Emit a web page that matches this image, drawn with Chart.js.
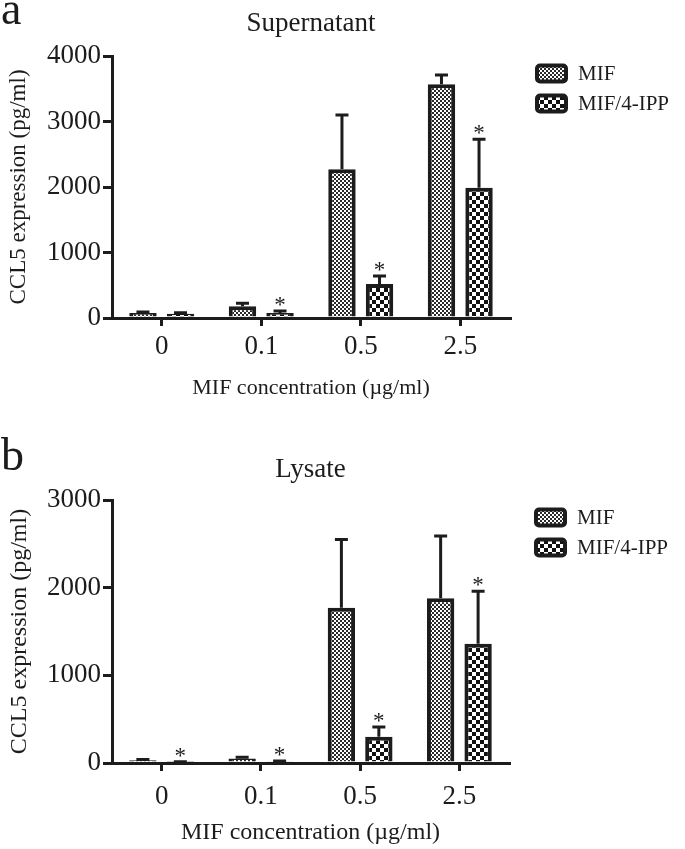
<!DOCTYPE html>
<html>
<head>
<meta charset="utf-8">
<script src="https://cdn.jsdelivr.net/npm/chart.js@4.4.1/dist/chart.umd.min.js"></script>
<style>
  body { margin: 0; background: #fff; }
  #wrap { position: relative; width: 685px; height: 849px; }
  canvas { position: absolute; left: 0; }
</style>
</head>
<body>
<div id="wrap">
  <canvas id="chartA" width="685" height="420" style="top:0"></canvas>
  <canvas id="chartB" width="685" height="429" style="top:420px"></canvas>
</div>
<script>
const categories = ['0', '0.1', '0.5', '2.5'];
const seriesNames = ['MIF', 'MIF/4-IPP'];

// panel a - supernatant
const supMif = [75, 180, 2270, 3570];
const supMifErr = [15, 45, 830, 140];
const supIpp = [65, 75, 520, 1990];
const supIppErr = [15, 30, 120, 740];
const supStars = [false, true, true, true];
const supTicks = [0, 1000, 2000, 3000, 4000];

// panel b - lysate
const lysMif = [30, 50, 1770, 1880];
const lysMifErr = [10, 15, 780, 710];
const lysIpp = [10, 15, 300, 1360];
const lysIppErr = [5, 8, 110, 600];
const lysStars = [true, true, true, true];
const lysTicks = [0, 1000, 2000, 3000];

const INK = '#1c1c1c';
const SERIF = "'Liberation Serif', 'Times New Roman', serif";

function makePattern(cell, dark) {
    const c = document.createElement('canvas');
    c.width = c.height = cell * 2;
    const g = c.getContext('2d');
    g.fillStyle = '#fff';
    g.fillRect(0, 0, cell * 2, cell * 2);
    g.fillStyle = dark;
    g.fillRect(0, 0, cell, cell);
    g.fillRect(cell, cell, cell, cell);
    return g.createPattern(c, 'repeat');
}

const finePattern = makePattern(2, '#2a2a2a');
const coarsePattern = makePattern(4, '#111');

// error bars (upper only) + significance stars
const errorBars = {
    id: 'errorBars',
    afterDatasetsDraw(chart) {
        const ctx = chart.ctx;
        const yScale = chart.scales.y;
        chart.data.datasets.forEach((ds, di) => {
            const meta = chart.getDatasetMeta(di);
            meta.data.forEach((bar, i) => {
                const top = yScale.getPixelForValue(ds.data[i] + ds.errors[i]);
                ctx.save();
                ctx.strokeStyle = INK;
                ctx.lineWidth = 3;
                ctx.beginPath();
                ctx.moveTo(bar.x, bar.y);
                ctx.lineTo(bar.x, top);
                ctx.moveTo(bar.x - 6.5, top);
                ctx.lineTo(bar.x + 6.5, top);
                ctx.stroke();
                if (ds.stars && ds.stars[i]) {
                    ctx.fillStyle = INK;
                    ctx.font = '23px ' + SERIF;
                    ctx.textAlign = 'center';
                    ctx.textBaseline = 'alphabetic';
                    ctx.fillText('*', bar.x, top + 1);
                }
                ctx.restore();
            });
        });
    }
};

const sideLegend = {
    id: 'sideLegend',
    afterDraw(chart) {
        const { ctx, chartArea } = chart;
        chart.data.datasets.forEach((ds, i) => {
            const x = chartArea.right + 25;
            const cy = chartArea.top + 17 + i * 30;
            ctx.save();
            ctx.beginPath();
            ctx.roundRect(x + 2, cy - 7.5, 29, 16, 3);
            ctx.fillStyle = ds.backgroundColor;
            ctx.fill();
            ctx.lineWidth = 4;
            ctx.strokeStyle = INK;
            ctx.stroke();
            ctx.fillStyle = INK;
            ctx.font = '21px ' + SERIF;
            ctx.textBaseline = 'middle';
            ctx.fillText(ds.label, x + 43, cy + 1);
            ctx.restore();
        });
    }
};

const panelText = {
    id: 'panelText',
    afterDraw(chart, args, opts) {
        const { ctx, chartArea } = chart;
        ctx.save();
        ctx.fillStyle = INK;
        ctx.font = '46px ' + SERIF;
        ctx.textBaseline = 'alphabetic';
        ctx.fillText(opts.letter, 1, opts.letterY);
        ctx.font = '27px ' + SERIF;
        ctx.textAlign = 'center';
        ctx.textBaseline = 'middle';
        ctx.fillText(opts.title, (chartArea.left + chartArea.right) / 2, opts.titleY);
        ctx.restore();
    }
};

function buildChart(id, p) {
    return new Chart(document.getElementById(id), {
        type: 'bar',
        data: {
            labels: categories,
            datasets: [
                {
                    label: seriesNames[0], data: p.mif, errors: p.mifErr, stars: [],
                    backgroundColor: finePattern, borderColor: INK, borderWidth: 4,
                    borderSkipped: 'start', categoryPercentage: 0.755, barPercentage: 0.73
                },
                {
                    label: seriesNames[1], data: p.ipp, errors: p.ippErr, stars: p.stars,
                    backgroundColor: coarsePattern, borderColor: INK, borderWidth: 4,
                    borderSkipped: 'start', categoryPercentage: 0.755, barPercentage: 0.73
                }
            ]
        },
        options: {
            responsive: false,
            animation: false,
            layout: { padding: { top: p.padTop, right: p.padRight, bottom: 0, left: 0 } },
            plugins: {
                legend: { display: false },
                tooltip: { enabled: false },
                panelText: { letter: p.letter, letterY: p.letterY, title: p.title, titleY: p.titleY }
            },
            scales: {
                x: {
                    z: 1,
                    grid: { offset: false, drawOnChartArea: false, tickLength: 8, lineWidth: 3, color: INK },
                    border: { color: INK, width: 3 },
                    ticks: { color: INK, font: { family: SERIF, size: 27 }, padding: p.xTickPad },
                    title: {
                        display: true, text: 'MIF concentration (µg/ml)', color: INK,
                        font: { family: SERIF, size: p.xTitleSize }, padding: { top: 0, bottom: p.xTitlePad }
                    },
                    afterFit: s => { s.height = p.xHeight; }
                },
                y: {
                    z: 1,
                    min: 0,
                    max: p.ticks[p.ticks.length - 1],
                    grid: { drawOnChartArea: false, tickLength: 9, lineWidth: 3, color: INK },
                    border: { color: INK, width: 3 },
                    ticks: { color: INK, font: { family: SERIF, size: 27 }, padding: 2, callback: v => String(v) },
                    afterBuildTicks: s => { s.ticks = p.ticks.map(v => ({ value: v })); },
                    title: {
                        display: true, text: 'CCL5 expression (pg/ml)', color: INK,
                        font: { family: SERIF, size: p.yTitleSize }, padding: { top: 5, bottom: 0 }
                    },
                    afterFit: s => { s.width = 112; }
                }
            }
        },
        plugins: [errorBars, sideLegend, panelText]
    });
}

buildChart('chartA', {
    mif: supMif, mifErr: supMifErr, ipp: supIpp, ippErr: supIppErr, stars: supStars, ticks: supTicks,
    letter: 'a', letterY: 24, title: 'Supernatant', titleY: 24,
    padTop: 56, padRight: 175, xHeight: 102, xTickPad: 5, xTitleSize: 22, xTitlePad: 19, yTitleSize: 23
});

buildChart('chartB', {
    mif: lysMif, mifErr: lysMifErr, ipp: lysIpp, ippErr: lysIppErr, stars: lysStars, ticks: lysTicks,
    letter: 'b', letterY: 50, title: 'Lysate', titleY: 50,
    padTop: 80, padRight: 176, xHeight: 86, xTickPad: 10, xTitleSize: 24, xTitlePad: 2, yTitleSize: 24
});
</script>
</body>
</html>
